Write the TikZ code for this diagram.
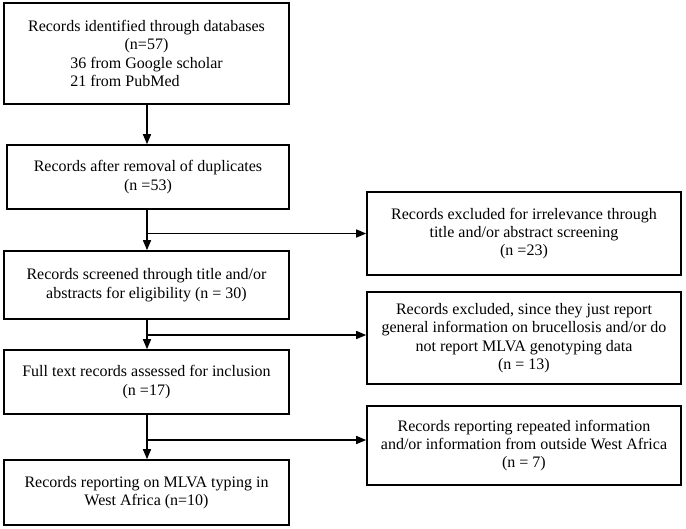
\documentclass[tikz,border=0pt]{standalone}
\usepackage{fontspec}
\setmainfont{Liberation Serif}
\usetikzlibrary{arrows.meta}
\begin{document}
\begin{tikzpicture}[x=1pt,y=-1pt,
  box/.style={draw, line width=1.6pt, align=center, inner sep=0pt,
    font=\fontsize{16}{18.4}\selectfont},
  conn/.style={line width=1.5pt, -{Triangle[length=10pt,width=8pt]}}]
\useasboundingbox (0,0) rectangle (686,528);
\newcommand{\bx}[6]{%
  \node[box, minimum width={#4-#2}, minimum height={#5-#3}] (#1) at ({(#2+#4)/2},{(#3+#5)/2}) {#6};}
\bx{B1}{4}{3}{289}{104}{Records identified through databases\\(n=57)\\36 from Google scholar\\\makebox[0pt][l]{21 from PubMed}\hphantom{36 from Google scholar}}
\bx{B2}{7}{145}{289}{209}{Records after removal of duplicates\\(n =53)}
\bx{B3}{4}{251}{289}{319}{Records screened through title and/or\\abstracts for eligibility (n = 30)}
\bx{B4}{4}{350}{289}{414}{Full text records assessed for inclusion\\(n =17)}
\bx{B5}{4}{460}{289}{525}{Records reporting on MLVA typing in\\West Africa (n=10)}
\bx{R1}{367}{192}{681}{275}{Records excluded for irrelevance through\\title and/or abstract screening\\(n =23)}
\bx{R2}{367}{292}{681}{384}{Records excluded, since they just report\\general information on brucellosis and/or do\\not report MLVA genotyping data\\(n = 13)}
\bx{R3}{367}{406}{681}{485}{Records reporting repeated information\\and/or information from outside West Africa\\(n = 7)}
\coordinate (a1) at (147,104);
\coordinate (a2) at (147,209);
\coordinate (a3) at (147,319);
\coordinate (a4) at (147,414);
\draw[conn] (a1) -- (a1 |- B2.north);
\draw[conn] (a2) -- (a2 |- B3.north);
\draw[conn] (a3) -- (a3 |- B4.north);
\draw[conn] (a4) -- (a4 |- B5.north);
\draw[conn] (a2 |- R1.west) -- (R1.west);
\draw[conn] (a3 |- 0,335) -- (R2.west |- 0,335);
\draw[conn] (a4 |- 0,440) -- (R3.west |- 0,440);
\end{tikzpicture}
\end{document}
